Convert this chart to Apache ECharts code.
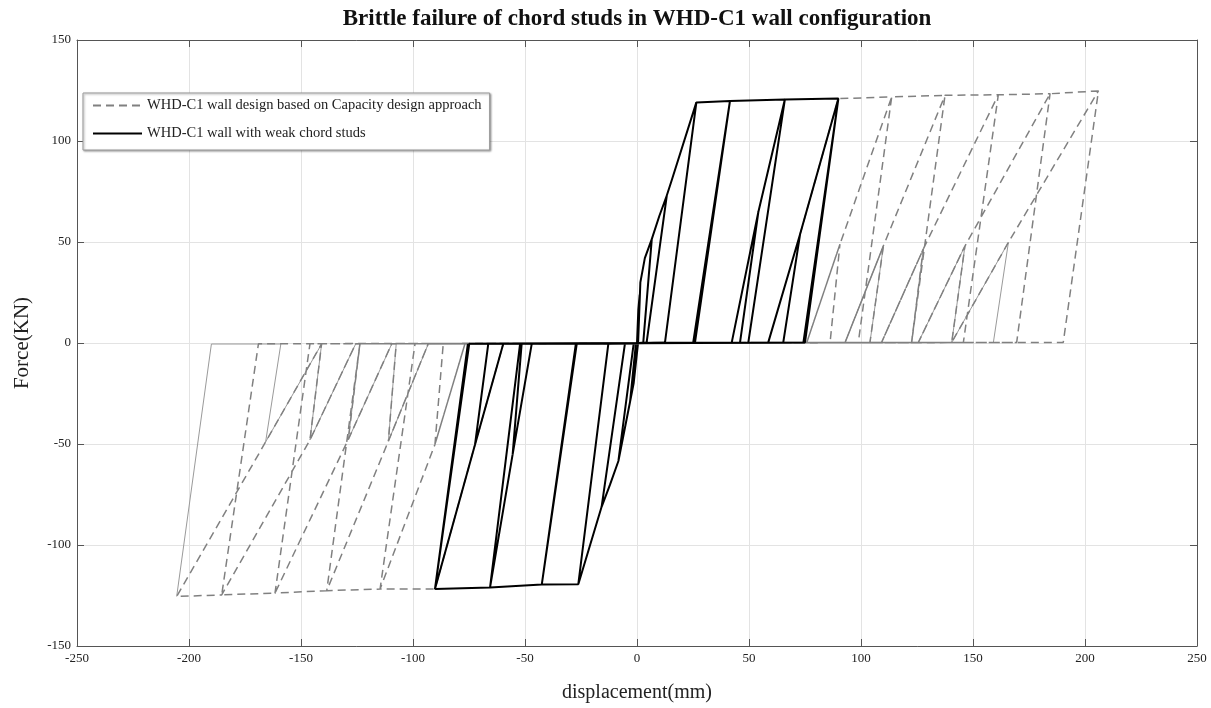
<!DOCTYPE html>
<html><head><meta charset="utf-8">
<script src="https://cdn.jsdelivr.net/npm/echarts@6/dist/echarts.min.js"></script>
<style>html,body{margin:0;padding:0;background:#fff}#c{width:1211px;height:708px}</style>
</head><body><div id="c"></div>
<script>
// ---- data (displacement mm, force kN) ----
const titleText = 'Brittle failure of chord studs in WHD-C1 wall configuration';
const xName = 'displacement(mm)';
const yName = 'Force(KN)';
const xTicks = [-250, -200, -150, -100, -50, 0, 50, 100, 150, 200, 250];
const yTicks = [-150, -100, -50, 0, 50, 100, 150];
const nameCapacity = 'WHD-C1 wall design based on Capacity design approach';
const nameWeak = 'WHD-C1 wall with weak chord studs';

// weak chord studs (black) hysteresis path
const weakChord = [
[0,0],[0.6,16.6],[1.2,24],[0.5,0.3],
[-0.2,-0.4],[-1.5,-20],[-3.1,-29.1],[-0.5,-0.4],
[0.5,0.3],[1.5,30],[3.5,42],[6.6,51.4],[2.8,0.3],
[-0.5,-0.4],[-3.1,-29.1],[-8.3,-58.4],[-1.5,-0.4],
[2.8,0.3],[6.6,51.4],[10,63],[13.3,73],[4.3,0.3],
[-1.5,-0.4],[-8.3,-58.4],[-12,-70],[-15.8,-81.1],[-5.4,-0.4],
[4.3,0.3],[13.3,73],[15.5,80.6],[26.5,119.1],[12.5,0.3],
[-5.4,-0.4],[-15.8,-81.1],[-26.2,-119.4],[-12.8,-0.4],
[12.5,0.3],[26.5,119.1],[41.5,119.8],[25.1,0.3],
[-12.8,-0.4],[-26.2,-119.4],[-42.5,-119.5],[-26.9,-0.4],
[25.1,0.3],[41.5,119.8],[25.9,0.3],
[-26.9,-0.4],[-42.5,-119.5],[-27.3,-0.4],
[25.9,0.3],[41.5,119.8],[66,120.5],[49.7,0.3],
[-27.3,-0.4],[-42.5,-119.5],[-65.6,-121],[-52.2,-0.4],
[42.3,0.3],[54.2,65],[46,0.3],
[-47,-0.4],[-55.5,-55],[-51.5,-0.4],
[42.3,0.3],[54.2,65],[66,120.5],[89.9,121],[75,0.3],
[-47,-0.4],[-55.5,-55],[-65.6,-121],[-90.2,-121.8],[-74.9,-0.4],
[58.6,0.3],[72.8,53.8],[65.3,0.3],
[-59.7,-0.4],[-72.3,-50.2],[-66.4,-0.4],
[58.6,0.3],[72.8,53.8],[89.9,121],[74.3,0.3],
[-59.7,-0.4],[-72.3,-50.2],[-90.2,-121.8],[-75.5,-0.4]
];

// capacity design (grey dashed) continuation path
const capacityDashed = [
[72.8,53.8],[89.9,121],[113.7,121.8],[98.8,0.3],
[-59.7,-0.4],[-72.3,-50.2],[-90.2,-121.8],[-114.7,-121.8],[-99.1,-0.4],
[75.8,0.3],[90.6,48.9],[86.2,0.3],
[-76.8,-0.4],[-90.2,-50.2],[-86.5,-0.4],
[75.8,0.3],[90.6,48.9],[113.7,121.8],[137.5,122.6],[122.6,0.3],
[-76.8,-0.4],[-90.2,-50.2],[-114.7,-121.8],[-138.5,-122.6],[-123.7,-0.4],
[92.9,0.3],[110,48.1],[104,0.3],
[-93.2,-0.4],[-111,-48.6],[-107.5,-0.4],
[92.9,0.3],[110,48.1],[137.5,122.6],[161.3,122.9],[145.7,0.3],
[-93.2,-0.4],[-111,-48.6],[-138.5,-122.6],[-161.6,-123.8],[-146,-0.4],
[109.2,0.3],[127.8,46.5],[122.6,0.3],
[-109.5,-0.4],[-128.9,-47.8],[-123.7,-0.4],
[109.2,0.3],[127.8,46.5],[161.3,122.9],[184.4,123.4],[169.5,0.3],
[-109.5,-0.4],[-128.9,-47.8],[-161.6,-123.8],[-185.4,-124.7],[-169,-0.4],
[125.6,0.3],[146.4,48],[140.5,0.3],
[-125.6,-0.4],[-146,-48],[-140.8,-0.4],
[125.6,0.3],[146.4,48],[184.4,123.4],[206,124.8],[190.3,0.3],
[-125.6,-0.4],[-146,-48],[-185.4,-124.7],[-205.5,-125.5],
[-165.8,-49],[-140.8,-0.4],
[140.5,0.3],[165.8,49.8],[206,124.8]
];

// capacity design, densely sampled parts (appear solid, thin grey)
const capacitySolid = [
[-205.5,-125.5],[-190,-0.5],[-159,-0.5],[-165.8,-49],[-140.8,-0.5],[-146,-48],
[-125.6,-0.5],[-123.7,-0.5],[-128.9,-47.8],[-109.5,-0.5],[-107.5,-0.5],[-111,-48.6],
[-93.2,-0.5],[0,0],[92.9,0.3],[110,48.1],[104,0.3],[109.2,0.3],[127.8,46.5],
[122.6,0.3],[125.6,0.3],[146.4,48],[140.5,0.3],[165.8,49.8],[159.1,0.3]
];

const serif = '"Liberation Serif","DejaVu Serif",serif';
const chart = echarts.init(document.getElementById('c'), null, {renderer:'canvas'});
const axisLineStyle = {color:'#555', width:1};
function xAx(pos, labels){
  return {type:'value', position:pos, min:xTicks[0], max:xTicks[xTicks.length-1], interval:50,
    axisLine:{show:true, onZero:false, lineStyle:axisLineStyle},
    axisTick:{show:true, inside:true, length:7, lineStyle:{color:'#555'}},
    axisLabel:{show:labels, color:'#222', fontFamily:serif, fontSize:13, margin:6},
    splitLine:{show:labels, lineStyle:{color:'#e3e3e3', width:1}},
    name: labels ? xName : '', nameLocation:'middle', nameGap:37,
    nameTextStyle:{fontFamily:serif, fontSize:20, color:'#222'}};
}
function yAx(pos, labels){
  return {type:'value', position:pos, min:yTicks[0], max:yTicks[yTicks.length-1], interval:50,
    axisLine:{show:true, onZero:false, lineStyle:axisLineStyle},
    axisTick:{show:true, inside:true, length:7, lineStyle:{color:'#555'}},
    axisLabel:{show:labels, color:'#222', fontFamily:serif, fontSize:13, margin:6},
    splitLine:{show:labels, lineStyle:{color:'#e3e3e3', width:1}},
    name: labels ? yName : '', nameLocation:'middle', nameGap:44, nameRotate:90,
    nameTextStyle:{fontFamily:serif, fontSize:21, color:'#222'}};
}
chart.setOption({
  animation:false,
  backgroundColor:'#fff',
  title:{text:titleText, left:632, top:3, textAlign:'center',
    textStyle:{fontFamily:serif, fontWeight:'bold', fontSize:23, color:'#111'}},
  grid:{left:77, right:14, top:40, bottom:53, containLabel:false},
  legend:{data:[nameCapacity, nameWeak], orient:'vertical', left:83, top:93,
    itemWidth:49, itemHeight:14, itemGap:13, padding:[5,8,9,9],
    backgroundColor:'#fff', borderColor:'#999', borderWidth:1,
    shadowBlur:2, shadowColor:'rgba(0,0,0,0.35)', shadowOffsetX:1, shadowOffsetY:1,
    itemStyle:{opacity:0},
    textStyle:{fontFamily:serif, fontSize:14.5, color:'#222'}},
  xAxis:[xAx('bottom', true), xAx('top', false)],
  yAxis:[yAx('left', true), yAx('right', false)],
  series:[
    {name:'capacity-solid', type:'line', data:capacitySolid, symbol:'none', showSymbol:false, z:1,
      lineStyle:{color:'#9a9a9a', width:1}},
    {name:nameCapacity, type:'line', data:capacityDashed, symbol:'none', showSymbol:false, z:2,
      lineStyle:{color:'#808080', width:1.5, type:[8,5]}},
    {name:nameWeak, type:'line', data:weakChord, symbol:'none', showSymbol:false, z:3,
      lineStyle:{color:'#000', width:2}}
  ]
});
</script></body></html>
